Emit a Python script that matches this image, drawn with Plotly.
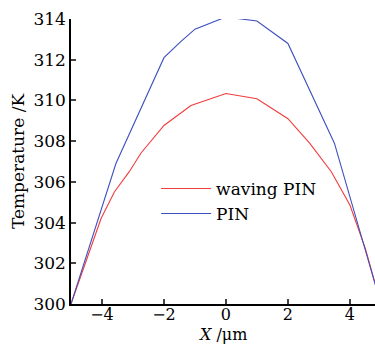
import plotly.graph_objects as go

x_pin = [-5, -3.55, -2, -1.45, -1, 0, 1, 2, 3.5, 5]
t_pin = [300, 306.9, 312.1, 312.9, 313.5, 314.1, 313.9, 312.8, 307.9, 300]

x_wav = [-5, -4.52, -4.03, -3.6, -3.12, -2.74, -2, -1.13, -0.5, 0, 1, 2, 2.7, 3.4, 4, 4.5, 5]
t_wav = [300, 302.07, 304.2, 305.5, 306.5, 307.42, 308.77, 309.75, 310.1, 310.34, 310.08, 309.1, 307.9, 306.5, 304.86, 302.72, 300]

x_ticks = [-4, -2, 0, 2, 4]
y_ticks = [300, 302, 304, 306, 308, 310, 312, 314]

FONT = "DejaVu Serif"

fig = go.Figure()
fig.add_trace(go.Scatter(x=x_wav, y=t_wav, mode="lines", name="waving PIN",
                         line=dict(color="#f23b3b", width=1.1)))
fig.add_trace(go.Scatter(x=x_pin, y=t_pin, mode="lines", name="PIN",
                         line=dict(color="#3d4fbf", width=1.1)))

fig.update_layout(
    width=375, height=344,
    margin=dict(l=71, r=0, t=19, b=40),
    paper_bgcolor="white", plot_bgcolor="white",
    font=dict(family=FONT, size=17, color="black"),
    showlegend=True,
    legend=dict(x=0.28, y=0.36, xanchor="left", yanchor="middle",
                bgcolor="rgba(0,0,0,0)", font=dict(size=17, family=FONT),
                itemwidth=50, tracegroupgap=0),
    xaxis=dict(range=[-5, 4.81], tickvals=x_ticks, ticks="inside", ticklen=5,
               tickwidth=1.5, showline=True, linecolor="black", linewidth=1.5,
               showgrid=False, zeroline=False, ticklabelstandoff=-5,
               tickfont=dict(size=16, family=FONT)),
    yaxis=dict(range=[300, 314], tickvals=y_ticks, ticks="inside", ticklen=5,
               tickwidth=1.5, showline=True, linecolor="black", linewidth=1.5,
               showgrid=False, zeroline=False,
               title=dict(text="Temperature /K", standoff=4, font=dict(size=17))),
    annotations=[dict(text="<i>X</i> /μm", xref="x", yref="paper", x=-0.1, y=0,
                      yshift=-30, yanchor="middle", xanchor="center",
                      showarrow=False, font=dict(size=16, family=FONT))],
)

fig.write_html("out.html", config={"displayModeBar": False},
               post_script="document.body.style.margin='0px';")
